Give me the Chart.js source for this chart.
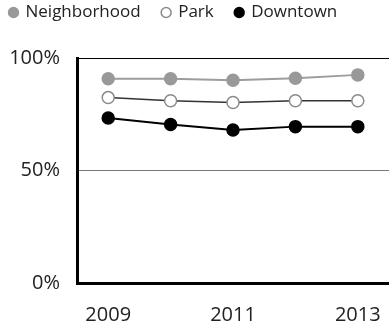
<!DOCTYPE html>
<html>
<head>
<meta charset="utf-8">
<script src="https://cdn.jsdelivr.net/npm/chart.js@4.4.1/dist/chart.umd.min.js"></script>
<style>
  html, body { margin: 0; padding: 0; background: #fff; }
  #wrap { width: 389px; height: 326px; }
</style>
</head>
<body>
<div id="wrap"><canvas id="grafica"></canvas></div>
<script>
const anios = ['2009', '2010', '2011', '2012', '2013']
const neighborhood = [90.8, 90.8, 90.1, 91, 92.5]
const park = [82.4, 81, 80.2, 81, 81]
const downtown = [73.3, 70.4, 68, 69.5, 69.5]
const ticksY = [0, 50, 100]

const fuente = '"Open Sans", "DejaVu Sans", sans-serif'

// pone la leyenda en la esquina superior izquierda
const moverLeyenda = {
   id: 'moverLeyenda',
   afterLayout(chart) {
      chart.legend.left = -12
      chart.legend.top = -18
   }
}

const serie = (label, data, linea, relleno, borde, ancho) => ({
   label: label,
   data: data,
   borderColor: linea,
   borderWidth: ancho,
   pointBackgroundColor: relleno,
   pointBorderColor: borde,
   pointBorderWidth: 1.5,
   pointRadius: 6,
   pointHoverRadius: 6,
   tension: 0,
   fill: false
})

const ctx = document.getElementById('grafica').getContext('2d')

new Chart(ctx, {
   type: 'line',
   data: {
      labels: anios,
      datasets: [
         serie('Neighborhood', neighborhood, '#9d9d9d', '#999999', '#999999', 2),
         serie('Park', park, '#333333', '#ffffff', '#8a8a8a', 1.5),
         serie('Downtown', downtown, '#000000', '#000000', '#000000', 2)
      ]
   },
   plugins: [moverLeyenda],
   options: {
      responsive: true,
      maintainAspectRatio: false,
      animation: false,
      layout: { autoPadding: false, padding: { top: 9, right: 0, left: 0, bottom: 0 } },
      plugins: {
         tooltip: { enabled: false },
         legend: {
            position: 'top',
            align: 'start',
            labels: {
               usePointStyle: true,
               pointStyle: 'circle',
               boxWidth: 7,
               boxHeight: 7,
               padding: 22,
               color: '#222',
               font: { family: fuente, size: 17 }
            }
         }
      },
      scales: {
         x: {
            offset: true,
            grid: { display: false, drawTicks: false },
            border: { display: true, width: 3, color: '#000' },
            afterFit: (scale) => {
               scale.height = 43
               scale.paddingLeft = 0
               scale.paddingRight = 0
            },
            ticks: {
               padding: 20,
               color: '#222',
               font: { family: fuente, size: 20 },
               autoSkip: false,
               maxRotation: 0,
               callback: function (valor, i) {
                  return i % 2 === 0 ? this.getLabelForValue(valor) : ''
               }
            }
         },
         y: {
            min: 0,
            max: 100,
            afterFit: (scale) => { scale.width = 77 },
            afterBuildTicks: (scale) => {
               scale.ticks = ticksY.map(v => ({ value: v }))
            },
            grid: {
               drawTicks: false,
               lineWidth: 1,
               color: (c) => c.tick.value === 100 ? '#000' : (c.tick.value === 0 ? 'rgba(0,0,0,0)' : '#777')
            },
            border: { display: true, width: 3, color: '#000' },
            ticks: {
               padding: 17,
               color: '#222',
               font: { family: fuente, size: 20 },
               callback: (v) => v + '%'
            }
         }
      }
   }
})
</script>
</body>
</html>
